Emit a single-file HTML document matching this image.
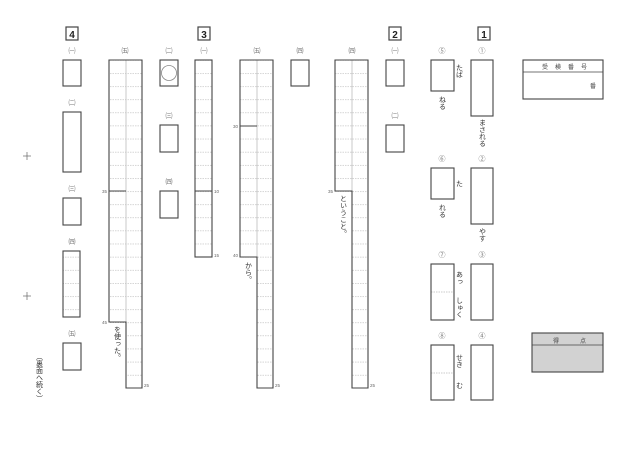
<!DOCTYPE html>
<html><head><meta charset="utf-8"><style>
html,body{margin:0;padding:0;background:#fff;}
svg{display:block;}
text{font-family:"Liberation Sans","Noto Sans CJK JP",sans-serif;}
.v{writing-mode:vertical-rl;}
</style></head><body>
<svg width="640" height="452" viewBox="0 0 640 452" xmlns="http://www.w3.org/2000/svg">
<defs>
<pattern id="rows" patternUnits="userSpaceOnUse" x="0" y="60" width="640" height="13.12">
<line x1="0" y1="0.3" x2="640" y2="0.3" stroke="#bbb" stroke-width="0.6" stroke-dasharray="1.5,1"/>
</pattern>
</defs>
<g fill="none" stroke="#444" stroke-width="1.2">
<!-- section numbers -->
<rect x="66" y="27" width="12" height="13"/>
<rect x="198" y="27" width="12" height="13"/>
<rect x="389" y="27" width="12" height="13"/>
<rect x="478" y="27" width="12" height="13"/>
</g>
<g font-size="10" font-weight="bold" fill="#222" text-anchor="middle">
<text x="72" y="38">4</text><text x="204" y="38">3</text><text x="395" y="38">2</text><text x="484" y="38">1</text>
</g>

<!-- grids fill -->
<rect x="109" y="60" width="33" height="328" fill="url(#rows)"/>
<rect x="108" y="323" width="18" height="66" fill="#fff"/>
<rect x="195" y="60" width="17" height="197" fill="url(#rows)"/>
<rect x="240" y="60" width="33" height="328" fill="url(#rows)"/>
<rect x="239" y="258" width="18" height="131" fill="#fff"/>
<rect x="335" y="60" width="33" height="328" fill="url(#rows)"/>
<rect x="334" y="192" width="18" height="197" fill="#fff"/>
<rect x="63" y="251" width="17" height="66" fill="url(#rows)"/>

<g stroke="#bbb" stroke-width="0.8">
<line x1="126" y1="60" x2="126" y2="322"/>
<line x1="257" y1="60" x2="257" y2="257"/>
<line x1="352" y1="60" x2="352" y2="191"/>
<line x1="431" y1="292" x2="454" y2="292" stroke-dasharray="1.5,1"/>
<line x1="431" y1="373" x2="454" y2="373" stroke-dasharray="1.5,1"/>
</g>

<g fill="none" stroke="#444" stroke-width="1.1">
<path d="M109,60H142V388H126V322H109Z"/>
<line x1="109" y1="191" x2="126" y2="191"/>
<path d="M240,60H273V388H257V257H240Z"/>
<line x1="240" y1="126" x2="257" y2="126"/>
<path d="M335,60H368V388H352V191H335Z"/>
<rect x="195" y="60" width="17" height="197"/>
<line x1="195" y1="191" x2="212" y2="191"/>
<!-- section 4 boxes -->
<rect x="63" y="60" width="18" height="26"/>
<rect x="63" y="112" width="18" height="60"/>
<rect x="63" y="198" width="18" height="27"/>
<rect x="63" y="251" width="17" height="66"/>
<rect x="63" y="343" width="18" height="27"/>
<rect x="160" y="60" width="18" height="26"/>
<rect x="160" y="125" width="18" height="27"/>
<rect x="160" y="191" width="18" height="27"/>
<rect x="291" y="60" width="18" height="26"/>
<rect x="386" y="60" width="18" height="26"/>
<rect x="386" y="125" width="18" height="27"/>
<!-- section 1 -->
<rect x="431" y="60" width="23" height="31"/>
<rect x="471" y="60" width="22" height="56"/>
<rect x="431" y="168" width="23" height="31"/>
<rect x="471" y="168" width="22" height="56"/>
<rect x="431" y="264" width="23" height="56"/>
<rect x="471" y="264" width="22" height="56"/>
<rect x="431" y="345" width="23" height="55"/>
<rect x="471" y="345" width="22" height="55"/>
<!-- 受検番号 -->
<rect x="523" y="60" width="80" height="39"/>
<line x1="523" y1="72" x2="603" y2="72" stroke-width="0.8"/>
</g>
<circle cx="169" cy="73" r="7.5" fill="none" stroke="#888" stroke-width="0.8"/>
<rect x="532" y="333" width="71" height="39" fill="#d2d2d2" stroke="#444" stroke-width="1.1"/>
<line x1="532" y1="345" x2="603" y2="345" stroke="#444" stroke-width="0.8"/>

<!-- crosses -->
<g stroke="#666" stroke-width="0.7">
<line x1="23" y1="156" x2="31" y2="156"/><line x1="27" y1="152" x2="27" y2="160"/>
<line x1="23" y1="296" x2="31" y2="296"/><line x1="27" y1="292" x2="27" y2="300"/>
</g>

<!-- labels -->
<g font-size="7" fill="#777" text-anchor="middle">
<text x="72" y="53">㈠</text><text x="72" y="105">㈡</text><text x="72" y="191">㈢</text>
<text x="72" y="244">㈣</text><text x="72" y="336">㈤</text>
<text x="125" y="53">㈤</text><text x="169" y="53">㈡</text><text x="169" y="118">㈢</text><text x="169" y="184">㈣</text>
<text x="204" y="53">㈠</text><text x="257" y="53">㈤</text><text x="300" y="53">㈣</text>
<text x="352" y="53">㈣</text><text x="395" y="53">㈠</text><text x="395" y="118">㈡</text>
<text x="442" y="53">⑤</text><text x="482" y="53">①</text>
<text x="442" y="161">⑥</text><text x="482" y="161">②</text>
<text x="442" y="257">⑦</text><text x="482" y="257">③</text>
<text x="442" y="338">⑧</text><text x="482" y="338">④</text>
</g>
<g font-size="4.5" fill="#666">
<text x="102" y="193">35</text><text x="102" y="324">45</text><text x="144" y="387">25</text>
<text x="214" y="193">10</text><text x="214" y="257">15</text>
<text x="233" y="128">30</text><text x="233" y="257">40</text><text x="275" y="387">25</text>
<text x="328" y="193">35</text><text x="370" y="387">25</text>
</g>
<g font-size="7" fill="#333">
<text class="v" x="117" y="326">を使った。</text>
<text class="v" x="248" y="262">から。</text>
<text class="v" x="343" y="195">ということ。</text>
<text class="v" x="459" y="64">たば</text>
<text class="v" x="442" y="96">ねる</text>
<text class="v" x="482" y="119">まされる</text>
<text class="v" x="459" y="180">た</text>
<text class="v" x="442" y="204">れる</text>
<text class="v" x="482" y="228">やす</text>
<text class="v" x="459" y="271">あっ</text>
<text class="v" x="459" y="297">しゅく</text>
<text class="v" x="459" y="354">せき</text>
<text class="v" x="459" y="382">む</text>
<text class="v" x="39" y="353">（裏面へ続く）</text>
</g>
<g font-size="6" fill="#444">
<text x="542" y="69">受</text><text x="555" y="69">検</text><text x="568" y="69">番</text><text x="581" y="69">号</text>
<text x="590" y="88">番</text>
<text x="553" y="343">得</text><text x="580" y="343">点</text>
</g>
</svg>
</body></html>
